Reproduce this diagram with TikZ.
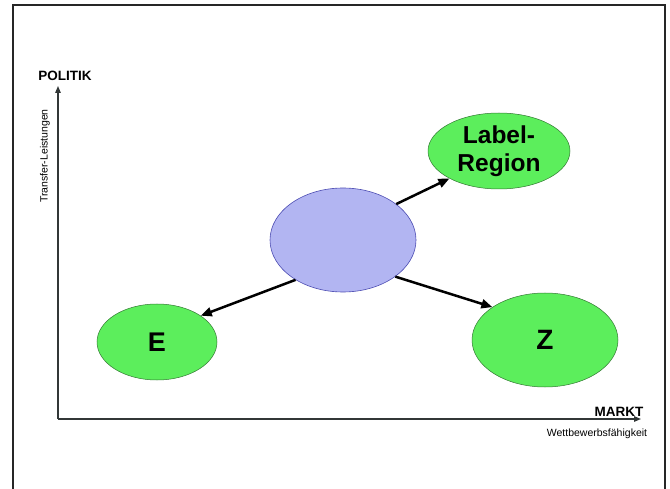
\documentclass[tikz,border=0pt]{standalone}
\usepackage{fontspec}
\setmainfont{Liberation Sans}
\usetikzlibrary{shapes.geometric,arrows.meta}
\definecolor{ellgreen}{RGB}{92,238,92}
\definecolor{ellblue}{RGB}{178,181,242}
\definecolor{axisgray}{RGB}{50,55,55}
\tikzset{
  greenell/.style={ellipse, fill=ellgreen, draw=black!55!green!60!gray, line width=0.5pt, inner sep=0pt, font=\fontsize{27}{28}\selectfont\bfseries},
  blueell/.style={ellipse, fill=ellblue, draw=blue!40!gray, line width=0.6pt, inner sep=0pt},
  conn/.style={line width=2.5pt, -{Triangle[length=11pt,width=9pt]}},
  axis/.style={draw=axisgray, line width=1.2pt, -{Triangle[length=7pt,width=5.5pt]}},
  axlabel/.style={font=\fontsize{13.5}{15}\selectfont\bfseries, inner sep=0pt},
  axsub/.style={inner sep=0pt},
}
\begin{document}
\begin{tikzpicture}[x=1pt,y=-1pt]
\useasboundingbox (0,0) rectangle (670,489);
\draw[line width=1.4pt, draw=black!85] (13,500) -- (13,5) -- (665,5) -- (665,500);
% axes
\coordinate (O) at (58,419);
\coordinate (ytop) at (58,86);
\coordinate (xend) at (641,419);
\draw[axis] (O) -- (ytop);
\draw[axis] (O) -- (xend);
\node[axlabel] (politik) at (65,76) {POLITIK};
\node[axlabel] (markt) at (619,412) {MARKT};
\node[axsub, font=\fontsize{10.5}{12}\selectfont, rotate=90] (transfer) at (45,156) {Transfer-Leistungen};
\node[axsub, font=\fontsize{10.5}{12}\selectfont] (wett) at (597,434) {Wettbewerbsfähigkeit};
% ellipses
\node[blueell, minimum width=146pt, minimum height=104pt] (blue) at (343,240) {};
\node[greenell, minimum width=142pt, minimum height=76pt, align=center, font=\fontsize{24.5}{28}\selectfont\bfseries] (label) at (499,151) {Label-\\Region};
\node[greenell, minimum width=120pt, minimum height=76pt] (E) at (157,342) {E};
\node[greenell, minimum width=146pt, minimum height=94pt, font=\fontsize{28}{30}\selectfont\bfseries] (Z) at (545,340) {Z};
% connectors
\draw[conn] (blue.34) -- (label.209);
\draw[conn] (blue.220) -- (E.31);
\draw[conn] (blue.-35) -- (Z.148);
\end{tikzpicture}
\end{document}
